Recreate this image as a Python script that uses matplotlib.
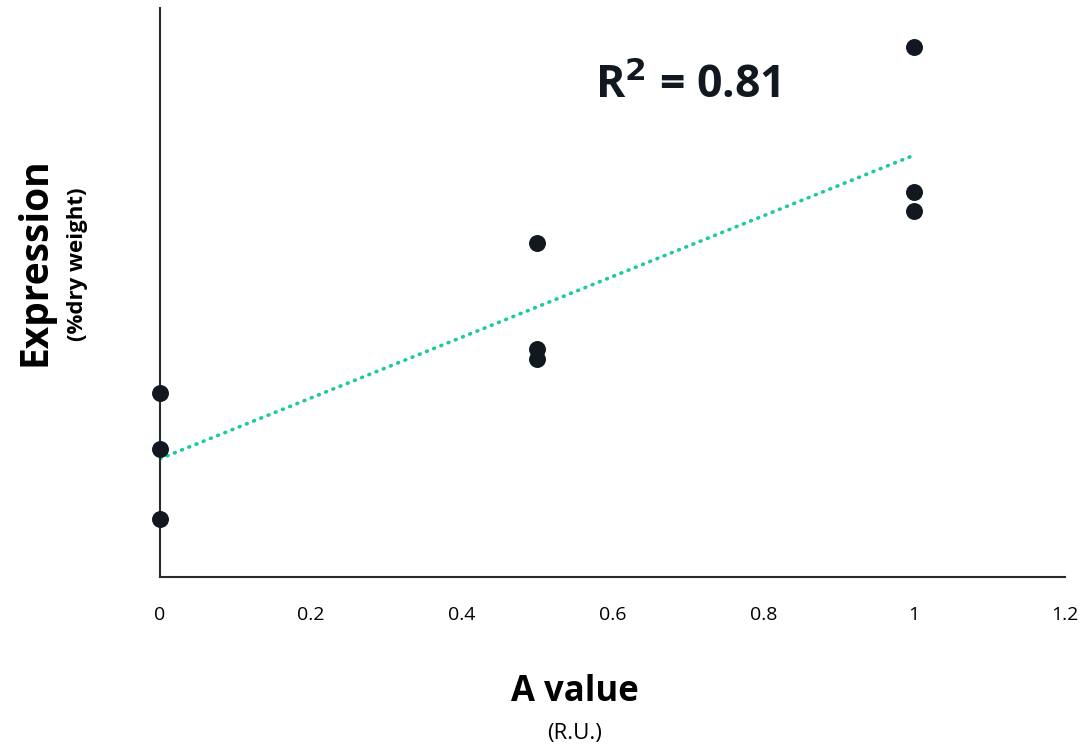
import numpy as np
import matplotlib.pyplot as plt

plt.rcParams['font.family'] = ['Open Sans', 'DejaVu Sans']

# data (y in arbitrary units, axis 0..10)
a_value = [0, 0, 0, 0.5, 0.5, 0.5, 1, 1, 1]
expression = [3.23, 2.25, 1.02, 5.87, 4.01, 3.83, 9.31, 6.77, 6.43]
xticks = [0, 0.2, 0.4, 0.6, 0.8, 1, 1.2]
xtick_labels = ['0', '0.2', '0.4', '0.6', '0.8', '1', '1.2']

fig = plt.figure(figsize=(10.87, 7.5), dpi=100)
ax = fig.add_axes([0.1472, 0.2307, 0.8326, 0.7586])

# linear trend line
slope, intercept = np.polyfit(a_value, expression, 1)
xl = np.array([0, 1])
ax.plot(xl, slope * xl + intercept, color='#1ec9a2', lw=2.6,
        linestyle=(0, (0.25, 1.9)), dash_capstyle='round', zorder=2)

ax.scatter(a_value, expression, s=125, color='#111820', zorder=3, clip_on=False)

ax.set_xlim(0, 1.2)
ax.set_ylim(0, 10)
ax.set_xticks(xticks)
ax.set_xticklabels(xtick_labels, fontsize=14)
ax.set_yticks([])
ax.tick_params(axis='x', length=0, pad=21)
for s in ['top', 'right']:
    ax.spines[s].set_visible(False)
for s in ['left', 'bottom']:
    ax.spines[s].set_color('#262b30')
    ax.spines[s].set_linewidth(1.5)

ax.text(0.70, 8.62, 'R$^\\mathbf{2}$ = 0.81', fontsize=32, fontweight='bold',
        color='#111820', ha='center', va='center')

fig.text(575 / 1087, 1 - 692 / 750, 'A value', fontsize=25, fontweight='bold',
         ha='center', va='center')
fig.text(575 / 1087, 1 - 734 / 750, '(R.U.)', fontsize=16, ha='center', va='center')
fig.text(35 / 1087, 1 - 262 / 750, 'Expression', fontsize=28, fontweight='bold',
         rotation=90, ha='center', va='center')
fig.text(78 / 1087, 1 - 264 / 750, '(%dry weight)', fontsize=16, fontweight='bold',
         rotation=90, ha='center', va='center')

fig.savefig('out.png', dpi=100)
